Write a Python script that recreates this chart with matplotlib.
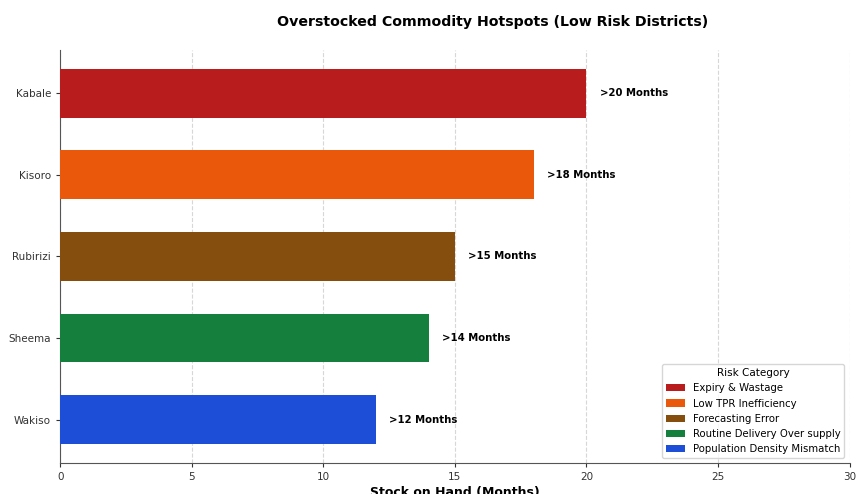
import matplotlib
matplotlib.use("Agg")
import matplotlib.pyplot as plt
from matplotlib.patches import Patch

districts = ["Kabale", "Kisoro", "Rubirizi", "Sheema", "Wakiso"]
months = [20, 18, 15, 14, 12]
labels = [">20 Months", ">18 Months", ">15 Months", ">14 Months", ">12 Months"]
categories = ["Expiry & Wastage", "Low TPR Inefficiency", "Forecasting Error",
              "Routine Delivery Over supply", "Population Density Mismatch"]
colors = ["#B91C1C", "#EA580C", "#854D0E", "#15803D", "#1D4ED8"]

fig = plt.figure(figsize=(8.59, 4.94), dpi=100)
ax = fig.add_axes([0.070, 0.063, 0.919, 0.836])

ypos = list(range(len(districts)))[::-1]
ax.barh(ypos, months, height=0.6, color=colors, zorder=3)
for y, v, t in zip(ypos, months, labels):
    ax.text(v + 0.5, y, t, va="center", ha="left", fontsize=7.3, fontweight="bold")

ax.set_yticks(ypos)
ax.set_yticklabels(districts)
ax.set_xlim(0, 30)
ax.tick_params(labelsize=7.5, colors="#333333", length=3)
ax.grid(axis="x", linestyle="--", alpha=0.5, zorder=0)
for side in ("top", "right"):
    ax.spines[side].set_visible(False)
for side in ("left", "bottom"):
    ax.spines[side].set_color("#555555")
ax.set_xlabel("Stock on Hand (Months)", fontsize=9, fontweight="bold", labelpad=3)
ax.set_title("Overstocked Commodity Hotspots (Low Risk Districts)",
             fontsize=10.2, fontweight="bold", pad=17, x=0.548)

handles = [Patch(facecolor=c, label=l) for c, l in zip(colors, categories)]
ax.legend(handles=handles, title="Risk Category", loc="lower right",
          fontsize=7.3, title_fontsize=7.5, handlelength=1.8)

fig.savefig("out.png", dpi=100)
